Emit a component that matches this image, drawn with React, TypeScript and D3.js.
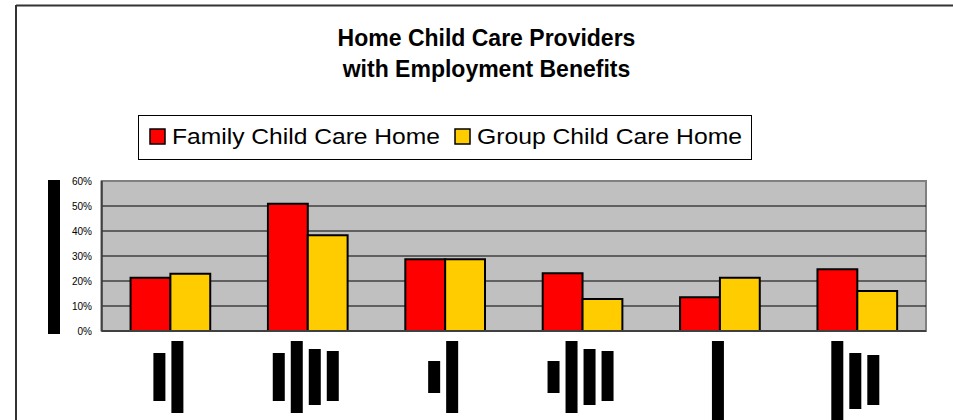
import React from "react";
import * as d3 from "d3";

const categories = ["Cat 1", "Cat 2", "Cat 3", "Cat 4", "Cat 5", "Cat 6"];
const familyValues = [21.3, 50.9, 28.7, 23.1, 13.5, 24.7];
const groupValues = [22.9, 38.3, 28.7, 12.8, 21.3, 16.0];
const seriesNames = ["Family Child Care Home", "Group Child Care Home"];
const seriesColors = ["#ff0000", "#ffcc00"];
const yTicks = [0, 10, 20, 30, 40, 50, 60];
const titleLines = ["Home Child Care Providers", "with Employment Benefits"];

// Category labels appear as solid black blocks (unreadable glyphs): [top, bottom] per block
const labelBlocks: [number, number][][] = [
  [[353, 401], [341, 413]],
  [[353, 401], [341, 413], [349, 405], [351, 401]],
  [[361, 393], [341, 413]],
  [[361, 393], [341, 413], [349, 405], [351, 401]],
  [[341, 422]],
  [[341, 422], [353, 409], [355, 405]],
];

const W = 953;
const H = 420;
const plot = { left: 101.7, right: 926, top: 181, bottom: 331 };
const FONT = "'Liberation Sans', Arial, sans-serif";

export default function App() {
  const x = d3
    .scaleBand<string>()
    .domain(categories)
    .range([plot.left, plot.right])
    .paddingInner(0.42)
    .paddingOuter(0.21);
  const xs = d3.scaleBand<string>().domain(seriesNames).range([0, x.bandwidth()]);
  const y = d3.scaleLinear().domain([0, 60]).range([plot.bottom, plot.top]);
  const series = [familyValues, groupValues];

  return (
    <svg
      width={W}
      height={H}
      style={{ position: "absolute", left: 0, top: 0, background: "#fff" }}
      fontFamily={FONT}
    >
      {/* outer frame */}
      <line x1={16} y1={5.5} x2={W} y2={5.5} stroke="#333" strokeWidth={2} />
      <line x1={16} y1={5} x2={16} y2={H} stroke="#333" strokeWidth={2} />

      {/* title */}
      {titleLines.map((t, i) => (
        <text
          key={t}
          x={486.5}
          y={46 + i * 30.5}
          textAnchor="middle"
          fontWeight="bold"
          fontSize={23}
          fill="#000"
        >
          {t}
        </text>
      ))}

      {/* legend */}
      <rect x={138.5} y={115.5} width={613} height={44} fill="#fff" stroke="#000" strokeWidth={1} />
      {seriesNames.map((s, i) => {
        const sx = i === 0 ? 150 : 455;
        const tx = i === 0 ? 172 : 477;
        const tl = i === 0 ? 268 : 265;
        return (
          <g key={s}>
            <rect x={sx} y={129} width={15} height={15} fill={seriesColors[i]} stroke="#000" strokeWidth={1.5} />
            <text x={tx} y={144} fontSize={22} textLength={tl} lengthAdjust="spacingAndGlyphs" fill="#000">
              {s}
            </text>
          </g>
        );
      })}

      {/* plot area */}
      <rect
        x={plot.left}
        y={plot.top}
        width={plot.right - plot.left}
        height={plot.bottom - plot.top}
        fill="#c0c0c0"
        stroke="#808080"
        strokeWidth={2}
      />
      {yTicks.slice(1, -1).map((t) => (
        <line key={t} x1={plot.left} x2={plot.right} y1={y(t)} y2={y(t)} stroke="#000" strokeWidth={1} />
      ))}
      {/* y tick labels */}
      {yTicks.map((t) => (
        <text key={t} x={92} y={y(t)} dy="0.35em" textAnchor="end" fontSize={10} fill="#000">
          {t}%
        </text>
      ))}

      {/* bars */}
      {categories.map((c, ci) =>
        series.map((vals, si) => (
          <rect
            key={c + si}
            x={(x(c) as number) + (xs(seriesNames[si]) as number)}
            y={y(vals[ci])}
            width={xs.bandwidth()}
            height={y(0) - y(vals[ci])}
            fill={seriesColors[si]}
            stroke="#000"
            strokeWidth={2}
          />
        ))
      )}

      {/* axes */}
      <line x1={plot.left} x2={plot.left} y1={plot.top} y2={plot.bottom} stroke="#404040" strokeWidth={2} />
      <line x1={plot.left} x2={plot.right} y1={plot.bottom} y2={plot.bottom} stroke="#404040" strokeWidth={2} />

      {/* y-axis title (rendered as block) */}
      <rect x={48} y={180} width={12} height={154} fill="#000" />

      {/* category labels (rendered as blocks) */}
      {categories.map((c, ci) => {
        const cx = (x(c) as number) + x.bandwidth() / 2 - 2;
        const blocks = labelBlocks[ci];
        const n = blocks.length;
        return blocks.map(([y0, y1], bi) => (
          <rect key={c + bi} x={cx + (bi - (n - 1) / 2) * 18 - 6} y={y0} width={12} height={y1 - y0} fill="#000" />
        ));
      })}
    </svg>
  );
}
